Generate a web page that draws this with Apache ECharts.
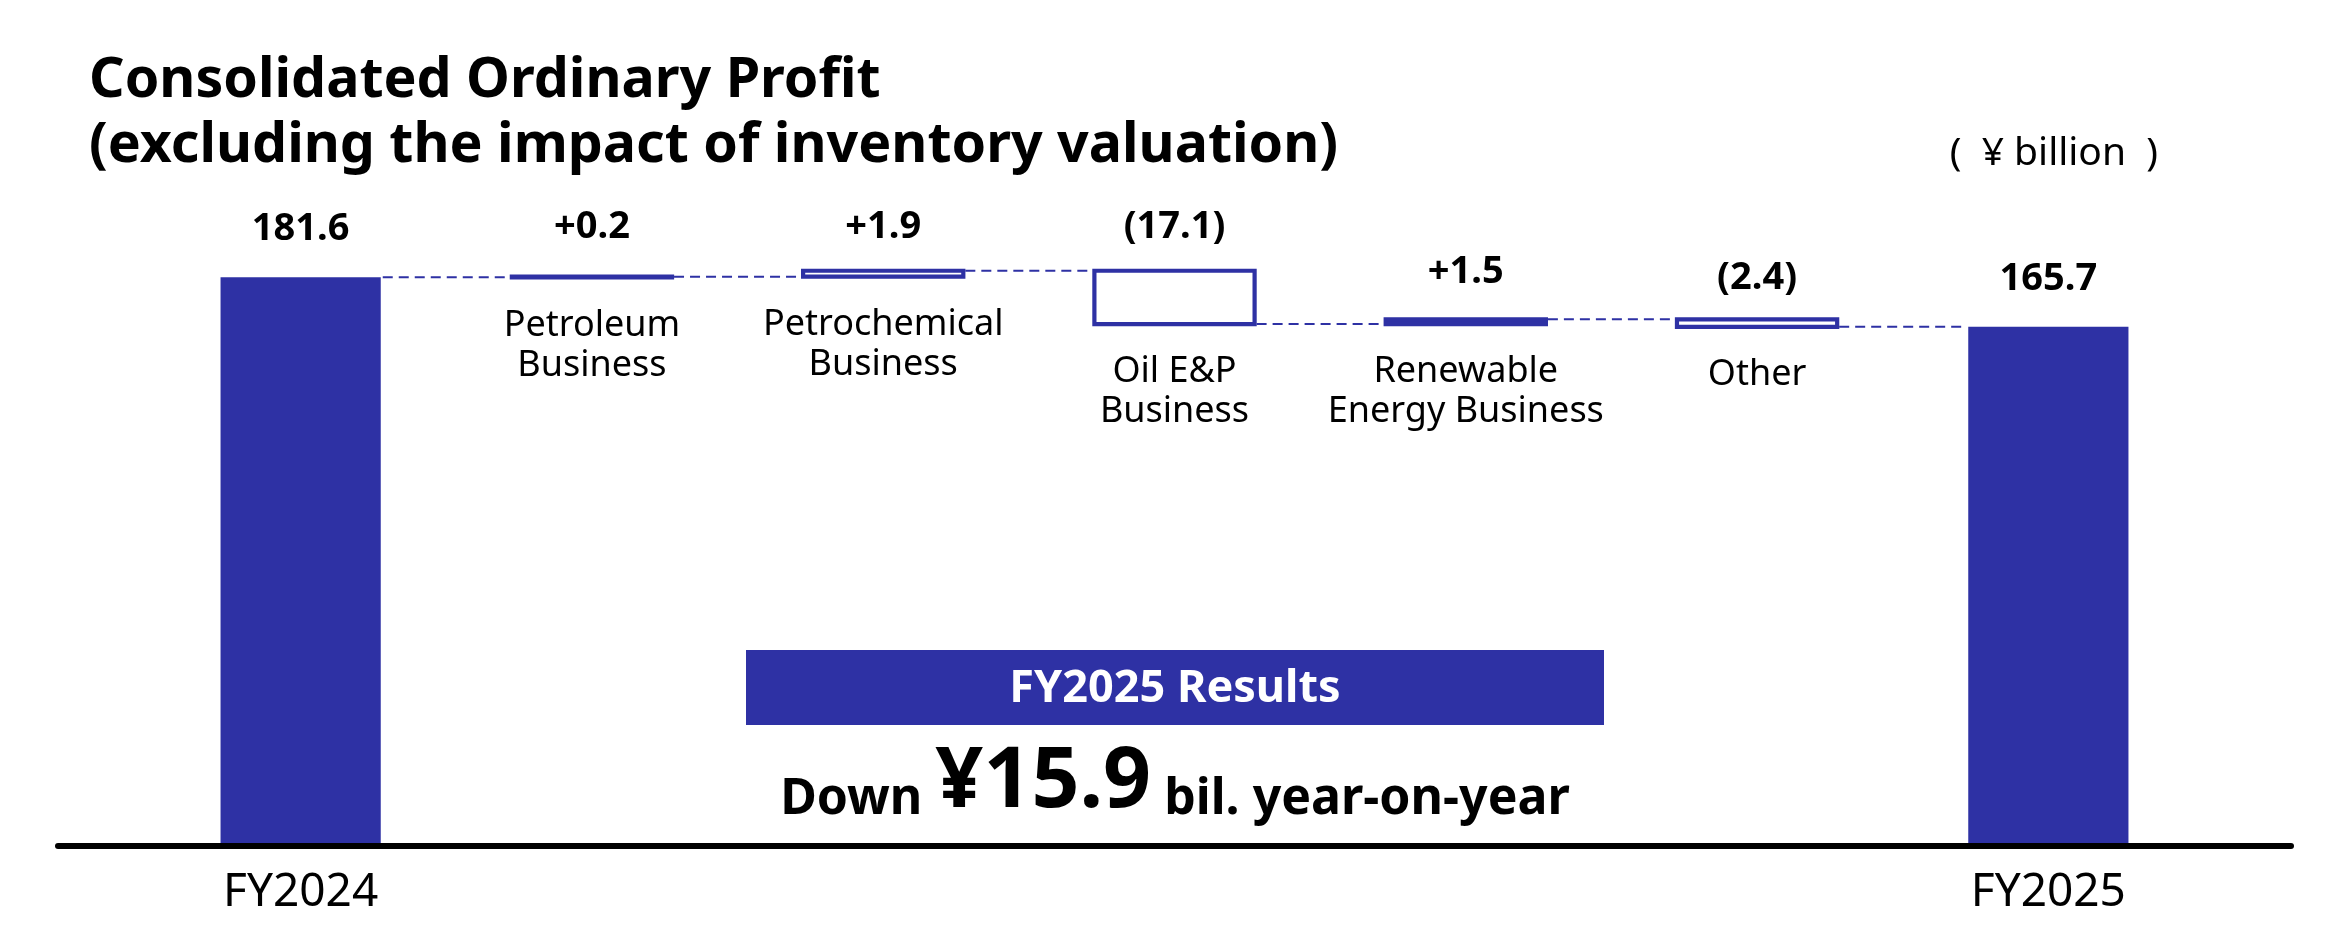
<!DOCTYPE html>
<html>
<head>
<meta charset="utf-8">
<script src="https://cdn.jsdelivr.net/npm/echarts@6/dist/echarts.min.js"></script>
<style>
html, body { margin: 0; padding: 0; background: #fff; }
#chart { width: 2351px; height: 949px; }
</style>
</head>
<body>
<div id="chart"></div>
<script>
// categories and values (¥ billion)
const categories = [
  'FY2024',
  'Petroleum\nBusiness',
  'Petrochemical\nBusiness',
  'Oil E&P\nBusiness',
  'Renewable\nEnergy Business',
  'Other',
  'FY2025'
];
const fy2024Value = 181.6;
const fy2025Value = 165.7;
const changes = [0.2, 1.9, -17.1, 1.5, -2.4];

// bars drawn as outlines (index into categories)
const hollowBars = [2, 3, 5];
// gap between each bar and its value label, px
const labelGap = [26, 25, 20, 20, 23, 17, 26];

const barColor = '#2E31A4';
const font = '"Noto Sans", "Open Sans", sans-serif';

// waterfall: [index, low, high]
let running = fy2024Value;
const baseData = [0];
const barRanges = [[0, 0, fy2024Value]];
const levels = [fy2024Value];
changes.forEach((c, k) => {
  const next = +(running + c).toFixed(1);
  const low = Math.min(running, next);
  const high = Math.max(running, next);
  baseData.push(low);
  barRanges.push([k + 1, low, high]);
  levels.push(next);
  running = next;
});
const last = categories.length - 1;
baseData.push(0);
barRanges.push([last, 0, fy2025Value]);

function valueLabel(i) {
  if (i === 0) return fy2024Value.toFixed(1);
  if (i === last) return fy2025Value.toFixed(1);
  const c = changes[i - 1];
  return c >= 0 ? '+' + c.toFixed(1) : '(' + Math.abs(c).toFixed(1) + ')';
}

const connectorData = levels.slice(0, last).map((v, i) => [i, v]);

const diff = (fy2024Value - fy2025Value).toFixed(1);

let chart = echarts.init(document.getElementById('chart'));
chart.setOption({
  animation: false,
  backgroundColor: '#ffffff',
  title: [
    {
      text: 'Consolidated Ordinary Profit\n(excluding the impact of inventory valuation)',
      left: 89,
      top: 49,
      padding: 0,
      textStyle: {
        color: '#000',
        fontFamily: font,
        fontWeight: 'bold',
        fontSize: 55.5,
        lineHeight: 65
      }
    },
    {
      text: '(  ¥ billion  )',
      right: 193,
      top: 131,
      padding: 0,
      textStyle: {
        color: '#000',
        fontFamily: font,
        fontWeight: 'normal',
        fontSize: 39,
        lineHeight: 46
      }
    }
  ],
  grid: [
    { left: 155, right: 157, top: 220, bottom: 106 },
    { left: 58, right: 60, top: 220, bottom: 106 }
  ],
  xAxis: [
    {
      type: 'category',
      data: categories,
      axisLine: { show: false },
      axisTick: { show: false },
      axisLabel: {
        interval: 0,
        margin: 25,
        color: '#000',
        fontFamily: font,
        fontSize: 46,
        lineHeight: 50,
        formatter: (v, i) => (i === 0 || i === last ? v : '')
      }
    },
    {
      type: 'value',
      gridIndex: 1,
      min: 0,
      max: 1,
      offset: 3,
      axisLine: { show: true, onZero: false, lineStyle: { color: '#000', width: 6 } },
      axisTick: { show: false },
      axisLabel: { show: false },
      splitLine: { show: false }
    }
  ],
  yAxis: [
    { type: 'value', min: 0, max: 200, show: false },
    { type: 'value', gridIndex: 1, min: 0, max: 1, show: false }
  ],
  series: [
    {
      // invisible base, carries the business names under each step
      name: 'base',
      type: 'bar',
      barWidth: '55%',
      data: baseData,
      itemStyle: { color: 'transparent' },
      emphasis: { disabled: true },
      label: {
        show: true,
        position: 'insideTop',
        distance: 28,
        color: '#000',
        fontFamily: font,
        fontSize: 36,
        lineHeight: 40,
        formatter: (p) => (p.dataIndex === 0 || p.dataIndex === last ? '' : categories[p.dataIndex])
      }
    },
    {
      name: 'value',
      type: 'custom',
      data: barRanges,
      encode: { x: 0, y: [1, 2] },
      silent: true,
      renderItem: (params, api) => {
        const i = api.value(0);
        const top = api.coord([i, api.value(2)]);
        const bottom = api.coord([i, api.value(1)]);
        const w = api.size([1, 0])[0] * 0.55;
        const isTotal = i === 0 || i === last;
        const hollow = hollowBars.indexOf(i) >= 0;
        return {
          type: 'rect',
          shape: { x: top[0] - w / 2, y: top[1], width: w, height: bottom[1] - top[1] },
          style: {
            fill: hollow ? '#ffffff' : barColor,
            stroke: isTotal ? null : barColor,
            lineWidth: isTotal ? 0 : 4.2
          },
          textContent: {
            style: {
              text: valueLabel(i),
              fill: '#000',
              fontFamily: font,
              fontWeight: 'bold',
              fontSize: 38,
              lineHeight: 44
            }
          },
          textConfig: { position: 'top', distance: labelGap[i] }
        };
      }
    },
    {
      name: 'connector',
      type: 'custom',
      data: connectorData,
      encode: { x: 0, y: 1 },
      silent: true,
      renderItem: (params, api) => {
        const pt = api.coord([api.value(0), api.value(1)]);
        const band = api.size([1, 0])[0];
        const half = band * 0.55 / 2;
        return {
          type: 'line',
          shape: { x1: pt[0] + half + 2, y1: pt[1], x2: pt[0] + band - half - 2, y2: pt[1] },
          style: { stroke: barColor, lineWidth: 2, lineDash: [10, 6] }
        };
      }
    }
  ],
  graphic: [
    {
      type: 'rect',
      left: 746,
      top: 650,
      shape: { width: 858, height: 75 },
      style: { fill: barColor }
    },
    {
      type: 'text',
      x: 1175,
      y: 689,
      style: {
        text: 'FY2025 Results',
        fill: '#fff',
        fontFamily: font,
        fontWeight: 'bold',
        fontSize: 45,
        align: 'center',
        verticalAlign: 'middle'
      }
    },
    {
      type: 'text',
      x: 1175,
      y: 825,
      style: {
        text: '{a|Down }{b|¥' + diff + '}{a| bil. year-on-year}',
        fill: '#000',
        align: 'center',
        verticalAlign: 'bottom',
        rich: {
          a: { fontFamily: font, fontWeight: 'bold', fontSize: 50, lineHeight: 60, verticalAlign: 'bottom', fill: '#000' },
          b: { fontFamily: font, fontWeight: 'bold', fontSize: 84, lineHeight: 80, verticalAlign: 'bottom', fill: '#000' }
        }
      }
    }
  ]
});
</script>
</body>
</html>
